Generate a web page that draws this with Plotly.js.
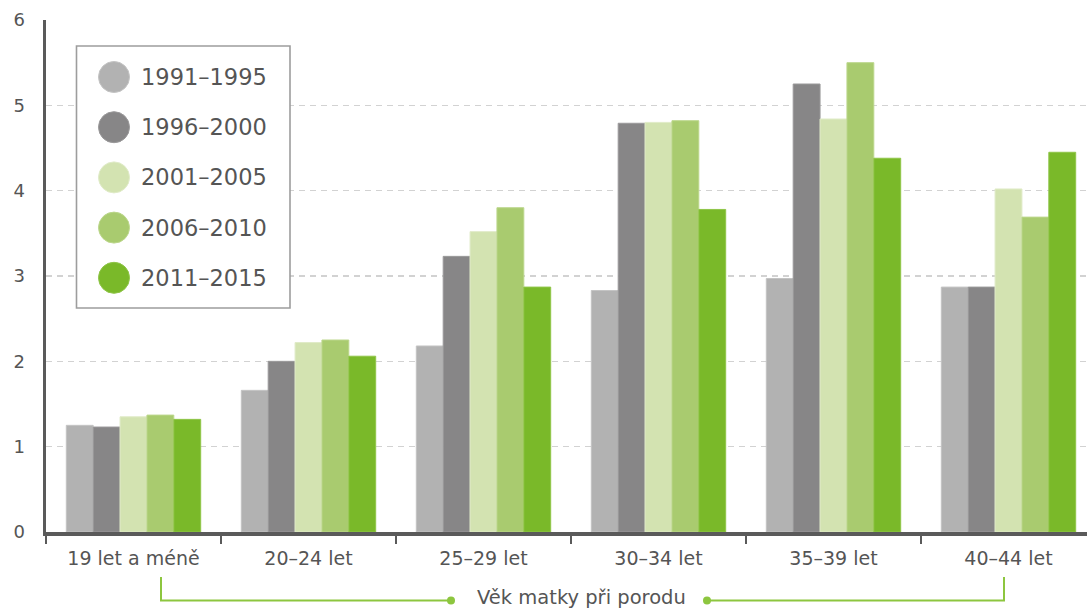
<!DOCTYPE html>
<html>
<head>
<meta charset="utf-8">
<script src="https://cdn.plot.ly/plotly-3.0.1.min.js"></script>
<style>
  html, body { margin: 0; padding: 0; background: #ffffff; }
  #chart { width: 1087px; height: 610px; }
</style>
</head>
<body>
<div id="chart"></div>
<script>
// Age groups of the mother at birth
const ageGroups = ["19 let a méně", "20–24 let", "25–29 let", "30–34 let", "35–39 let", "40–44 let"];

// Five-year periods
const periods = ["1991–1995", "1996–2000", "2001–2005", "2006–2010", "2011–2015"];

// Values per period, one per age group
const v1991_1995 = [1.25, 1.66, 2.18, 2.83, 2.97, 2.87];
const v1996_2000 = [1.23, 2.00, 3.23, 4.79, 5.25, 2.87];
const v2001_2005 = [1.35, 2.22, 3.52, 4.80, 4.84, 4.02];
const v2006_2010 = [1.37, 2.25, 3.80, 4.82, 5.50, 3.69];
const v2011_2015 = [1.32, 2.06, 2.87, 3.78, 4.38, 4.45];

const yTicks = [0, 1, 2, 3, 4, 5, 6];
const axisTitle = "Věk matky při porodu";

const seriesValues = [v1991_1995, v1996_2000, v2001_2005, v2006_2010, v2011_2015];
const colors = ["#b2b2b2", "#878687", "#d3e3b1", "#a9cb6f", "#7ab929"];
const edgeColors = ["#c4c4c4", "#9a999a", "#e0ebc8", "#bcd78c", "#8fc548"];

const traces = seriesValues.map((vals, i) => ({
  type: "bar",
  name: periods[i],
  x: ageGroups,
  y: vals,
  marker: { color: colors[i], line: { color: edgeColors[i], width: 1 } },
  showlegend: false,
  hoverinfo: "x+y+name"
}));

// plot area geometry (pixels) used to place the custom legend and bracket
const W = 1087, H = 610;
const mL = 46, mR = 0, mT = 20, mB = 78;
const pw = W - mL - mR, ph = H - mT - mB;
const px = (x) => (x - mL) / pw;
const py = (y) => (H - mB - y) / ph;

const font = "'DejaVu Sans', 'Open Sans', sans-serif";
const textColor = "#555555";
const green = "#8dc63f";

const shapes = [];
const annotations = [];

// legend frame
shapes.push({
  type: "rect", xref: "paper", yref: "paper", layer: "above",
  x0: px(76.5), x1: px(290), y0: py(308), y1: py(46),
  fillcolor: "#ffffff", line: { color: "#9d9d9d", width: 1.6 }
});

// legend entries: coloured disc + period label
periods.forEach((p, i) => {
  const cy = 77 + i * 50.2;
  shapes.push({
    type: "circle", xref: "paper", yref: "paper", layer: "above",
    xsizemode: "pixel", ysizemode: "pixel",
    xanchor: px(114), yanchor: py(cy),
    x0: -15.5, x1: 15.5, y0: -15.5, y1: 15.5,
    fillcolor: colors[i], line: { color: edgeColors[i], width: 1 }
  });
  annotations.push({
    xref: "paper", yref: "paper", x: px(139), y: py(cy),
    xanchor: "left", yanchor: "middle", showarrow: false,
    text: p, font: { family: font, size: 22.5, color: textColor }
  });
});

// bracket under the category axis
const lineY = 600.5;
shapes.push({
  type: "path", xref: "paper", yref: "paper", layer: "above",
  path: `M ${px(161)} ${py(577)} L ${px(161)} ${py(lineY)} L ${px(451)} ${py(lineY)}`,
  line: { color: green, width: 2 }
});
shapes.push({
  type: "path", xref: "paper", yref: "paper", layer: "above",
  path: `M ${px(707)} ${py(lineY)} L ${px(1004)} ${py(lineY)} L ${px(1004)} ${py(577)}`,
  line: { color: green, width: 2 }
});
[451, 707].forEach((cx) => {
  shapes.push({
    type: "circle", xref: "paper", yref: "paper", layer: "above",
    xsizemode: "pixel", ysizemode: "pixel",
    xanchor: px(cx), yanchor: py(lineY),
    x0: -4, x1: 4, y0: -4, y1: 4,
    fillcolor: green, line: { color: green, width: 0 }
  });
});
annotations.push({
  xref: "paper", yref: "paper", x: px(581.5), y: py(597),
  xanchor: "center", yanchor: "middle", showarrow: false,
  text: axisTitle, font: { family: font, size: 19.5, color: textColor }
});

const layout = {
  width: W, height: H,
  margin: { l: mL, r: mR, t: mT, b: mB, pad: 0 },
  paper_bgcolor: "#ffffff", plot_bgcolor: "#ffffff",
  barmode: "group", bargap: 0.232, bargroupgap: 0,
  font: { family: font, color: textColor },
  xaxis: {
    type: "category",
    range: [-0.5, -0.5 + pw / 175],
    showgrid: false, zeroline: false,
    showline: true, linecolor: "#5a5a5a", linewidth: 3.5,
    ticks: "outside", tickson: "boundaries", ticklen: 8, tickwidth: 2.5, tickcolor: "#5a5a5a",
    tickfont: { family: font, size: 19, color: textColor },
    ticklabelstandoff: 7
  },
  yaxis: {
    range: [0, 6], tickvals: yTicks, ticktext: yTicks.map(String),
    showgrid: true, gridcolor: "#d2d2d2", gridwidth: 1.5, griddash: "6px,5px",
    zeroline: false,
    showline: true, linecolor: "#5a5a5a", linewidth: 3.5,
    ticks: "", tickfont: { family: font, size: 18, color: textColor },
    ticklabelstandoff: 14
  },
  shapes: shapes,
  annotations: annotations
};

Plotly.newPlot("chart", traces, layout, { displayModeBar: false, staticPlot: true });
</script>
</body>
</html>
